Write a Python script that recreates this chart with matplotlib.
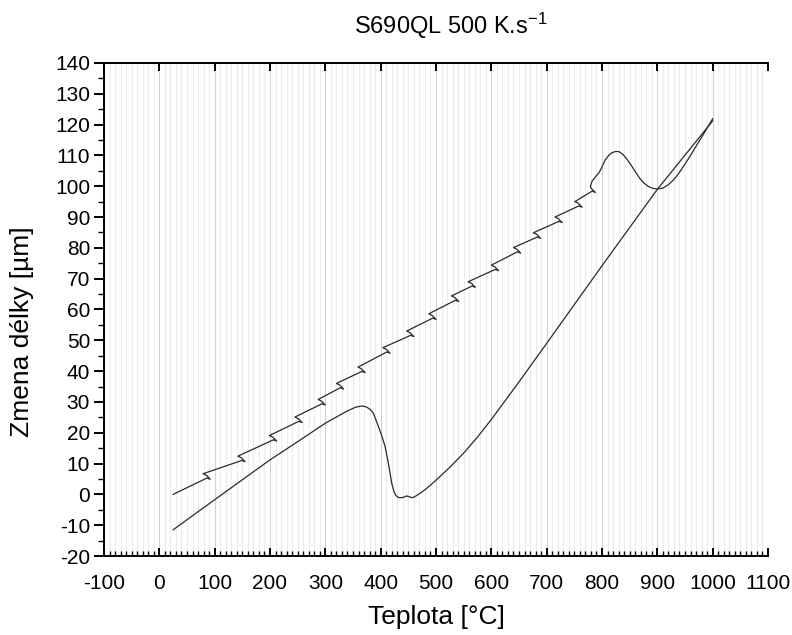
import numpy as np
import matplotlib
matplotlib.use("Agg")
import matplotlib.pyplot as plt
from matplotlib.ticker import MultipleLocator

plt.rcParams["font.family"] = ["Liberation Sans", "DejaVu Sans"]
plt.rcParams["mathtext.default"] = "regular"
plt.rcParams["axes.unicode_minus"] = False

# heating branch (with controller oscillation hooks)
heat_T = [25,
          86, 92, 85, 79,
          149, 155, 148, 142,
          206, 212, 205, 199,
          252, 258, 251, 245,
          294, 300, 293, 287,
          327, 333, 326, 320,
          366, 372, 365, 359,
          411, 417, 410, 404,
          454, 460, 453, 447,
          494, 500, 493, 487,
          535, 541, 534, 528,
          565, 571, 564, 558,
          607, 613, 606, 600,
          647, 653, 646, 640,
          683, 689, 682, 676,
          722, 728, 721, 715,
          758, 764, 757, 751,
          782, 788, 781, 779,
          782, 788, 795, 800, 806, 812, 818, 825, 831, 838, 845,
          852, 860, 868, 876, 884, 892, 900, 910, 920, 930, 940, 950,
          960, 970, 980, 990, 1000]
heat_dl = [0.0,
           5.3, 4.9, 6.2, 6.7,
           11.0, 10.6, 11.9, 12.4,
           17.7, 17.3, 18.6, 19.1,
           23.7, 23.3, 24.6, 25.1,
           29.4, 29.0, 30.3, 30.8,
           34.6, 34.2, 35.5, 36.0,
           39.9, 39.5, 40.8, 41.3,
           46.2, 45.8, 47.1, 47.6,
           51.6, 51.2, 52.5, 53.0,
           57.2, 56.8, 58.1, 58.6,
           63.0, 62.6, 63.9, 64.4,
           67.6, 67.2, 68.5, 69.0,
           73.0, 72.6, 73.9, 74.4,
           78.7, 78.3, 79.6, 80.1,
           83.5, 83.1, 84.4, 84.9,
           88.6, 88.2, 89.5, 90.0,
           93.6, 93.2, 94.5, 95.0,
           98.4, 98.0, 99.2, 100.0,
           101.6, 103.0, 104.5, 106.3, 108.6, 110.0, 110.9, 111.3, 111.2, 110.3, 108.8,
           107.0, 104.8, 102.6, 101.0, 99.9, 99.3, 99.1, 99.4, 100.5, 102.2, 104.5, 107.2,
           110.0, 113.0, 115.9, 118.9, 121.9]

# cooling branch
cool_T = [1000, 950, 900, 850, 800, 750, 700, 650, 600, 575, 550, 525, 500,
          490, 480, 470, 463, 457, 452, 447, 442, 437, 432, 427, 424, 420,
          414, 408, 402, 396, 387, 381, 374, 366, 355, 340, 320, 300, 250,
          200, 74, 25]
cool_dl = [121.2, 110.1, 99.0, 86.6, 74.2, 61.6, 49.0, 36.5, 24.3, 18.6, 13.4, 8.8, 4.6,
           3.0, 1.5, 0.2, -0.6, -1.1, -0.8, -0.5, -0.9, -1.1, -1.0, -0.3, 1.0, 3.6,
           10.1, 15.5, 19.0, 22.0, 26.3, 27.6, 28.4, 28.7, 28.3, 27.1, 25.1, 23.1, 17.1,
           11.2, -5.1, -11.5]

fig = plt.figure(figsize=(7.92, 6.35), dpi=100)
ax = fig.add_axes([0.1313, 0.1244, 0.8384, 0.7764])

ax.plot(heat_T, heat_dl, color="#2a2a2a", lw=0.9)
ax.plot(cool_T, cool_dl, color="#2a2a2a", lw=0.9)

ax.set_xlim(-100, 1100)
ax.set_ylim(-20, 140)
ax.xaxis.set_major_locator(MultipleLocator(100))
ax.xaxis.set_minor_locator(MultipleLocator(10))
ax.yaxis.set_major_locator(MultipleLocator(10))
ax.yaxis.set_minor_locator(MultipleLocator(5))

ax.grid(which="minor", axis="x", color="#ececec", lw=0.8)
ax.grid(which="major", axis="x", color="#d2d2d2", lw=0.8)
ax.set_axisbelow(True)

ax.spines["right"].set_visible(False)
for s in ("left", "bottom", "top"):
    ax.spines[s].set_linewidth(1.4)

ax.tick_params(axis="x", which="major", direction="in", length=6, width=1.4,
               top=True, bottom=True, labelsize=15, pad=13)
ax.tick_params(axis="x", which="minor", direction="in", length=3.5, width=1.0,
               top=False, bottom=True)
ax.tick_params(axis="y", which="major", direction="out", length=7, width=1.4,
               right=False, labelsize=15, pad=3)
ax.tick_params(axis="y", which="minor", direction="out", length=4, width=1.0,
               right=False)

ax.set_xlabel("Teplota [°C]", fontsize=19)
ax.set_ylabel("Zmena délky [µm]", fontsize=19)
ax.xaxis.set_label_coords(0.5, -0.1)
ax.yaxis.set_label_coords(-0.106, 0.454)

ax.text(0.5226, 1.06, "S690QL 500 K.s$^{-1}$", transform=ax.transAxes,
        ha="center", va="baseline", fontsize=17)

fig.savefig("out.png", dpi=100)
